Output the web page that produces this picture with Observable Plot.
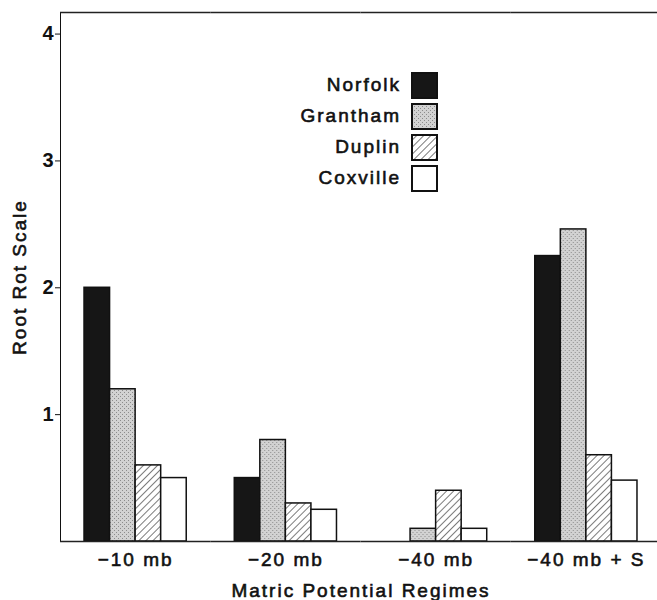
<!DOCTYPE html>
<html>
<head>
<meta charset="utf-8">
<script src="https://cdn.jsdelivr.net/npm/d3@7"></script>
<script src="https://cdn.jsdelivr.net/npm/@observablehq/plot@0.6"></script>
<style>
  body { margin: 0; background: #fff; }
  #chart svg text { fill: #111; }
  #chart svg g[aria-label="fx-axis tick label"] text,
  #chart svg g[aria-label="fx-axis label"] text,
  #chart svg g[aria-label="y-axis label"] text,
  #chart svg g.legend text { letter-spacing: 2px; paint-order: stroke; stroke: #111; stroke-width: 0.6px; }
  #chart svg g[aria-label="y-axis tick label"] text { font-weight: bold; font-size: 20px; }
</style>
</head>
<body>
<div id="chart"></div>
<script>
// ---- data ----
const groups = ["−10 mb", "−20 mb", "−40 mb", "−40 mb + S"];
const series = ["Norfolk", "Grantham", "Duplin", "Coxville"];
const norfolk  = [2.0, 0.5, 0.0, 2.25];
const grantham = [1.2, 0.8, 0.1, 2.46];
const duplin   = [0.6, 0.3, 0.4, 0.68];
const coxville = [0.5, 0.25, 0.1, 0.48];
const yTicks = [1, 2, 3, 4];
const yMax = 4.17;

const seriesValues = [norfolk, grantham, duplin, coxville];
const data = groups.flatMap((g, i) =>
  series.map((s, j) => ({group: g, series: s, value: seriesValues[j][i]}))
);

const plot = Plot.plot({
  width: 657,
  height: 600,
  marginLeft: 60,
  marginRight: -4,
  marginTop: 12,
  marginBottom: 59,
  style: {fontFamily: '"Liberation Sans", Arial, Helvetica, sans-serif', fontSize: "19px", color: "#111", background: "#fff", overflow: "hidden"},
  fx: {domain: groups, paddingInner: 0, paddingOuter: 0, round: false, label: "Matric Potential Regimes", labelAnchor: "center", labelOffset: 55, labelArrow: false, tickSize: 0, tickPadding: 11},
  x: {domain: series, paddingInner: 0, paddingOuter: 0.94, round: false, axis: null},
  y: {domain: [0, yMax], ticks: yTicks, tickFormat: d => String(d), tickSize: 5, tickPadding: 2, label: "Root Rot Scale", labelAnchor: "center", labelOffset: 48, labelArrow: false, line: true},
  color: {domain: series, range: ["#161616", "url(#stipple)", "url(#hatch)", "#ffffff"]},
  marks: [
    Plot.barY(data, {fx: "group", x: "series", y: "value", fill: "series", stroke: "#111", strokeWidth: 1.5}),
    Plot.ruleY([0], {stroke: "#222", strokeWidth: 1.5}),
    Plot.ruleY([yMax], {stroke: "#222", strokeWidth: 1.5})
  ]
});

const svg = d3.select(plot);
// remove any label arrows if the version adds them
svg.selectAll('g[aria-label="y-axis label"] text, g[aria-label="fx-axis label"] text').each(function() {
  this.textContent = this.textContent.replace(/[↑↓←→]\s*|\s*[↑↓←→]/g, "");
});
const defs = svg.insert("defs", ":first-child");
const st = defs.append("pattern").attr("id", "stipple").attr("patternUnits", "userSpaceOnUse").attr("width", 4).attr("height", 4);
st.append("rect").attr("width", 4).attr("height", 4).attr("fill", "#d2d2d2");
st.append("rect").attr("x", 0).attr("y", 0).attr("width", 1).attr("height", 1).attr("fill", "#8c8c8c");
st.append("rect").attr("x", 2).attr("y", 2).attr("width", 1).attr("height", 1).attr("fill", "#8c8c8c");
const ht = defs.append("pattern").attr("id", "hatch").attr("patternUnits", "userSpaceOnUse").attr("width", 5).attr("height", 5).attr("patternTransform", "rotate(45)");
ht.append("rect").attr("width", 5).attr("height", 5).attr("fill", "#fff");
ht.append("line").attr("x1", 0).attr("y1", 0).attr("x2", 0).attr("y2", 5).attr("stroke", "#333").attr("stroke-width", 1.3);

// legend
const color = plot.scale("color");
const lg = svg.append("g").attr("class", "legend").attr("font-size", 19);
series.forEach((s, i) => {
  const y0 = 73 + i * 31;
  lg.append("rect").attr("x", 412).attr("y", y0).attr("width", 25).attr("height", 25)
    .attr("fill", color.apply(s)).attr("stroke", "#111").attr("stroke-width", 2);
  lg.append("text").attr("x", 401).attr("y", y0 + 18).attr("text-anchor", "end").text(s);
});

document.getElementById("chart").appendChild(plot);
</script>
</body>
</html>
